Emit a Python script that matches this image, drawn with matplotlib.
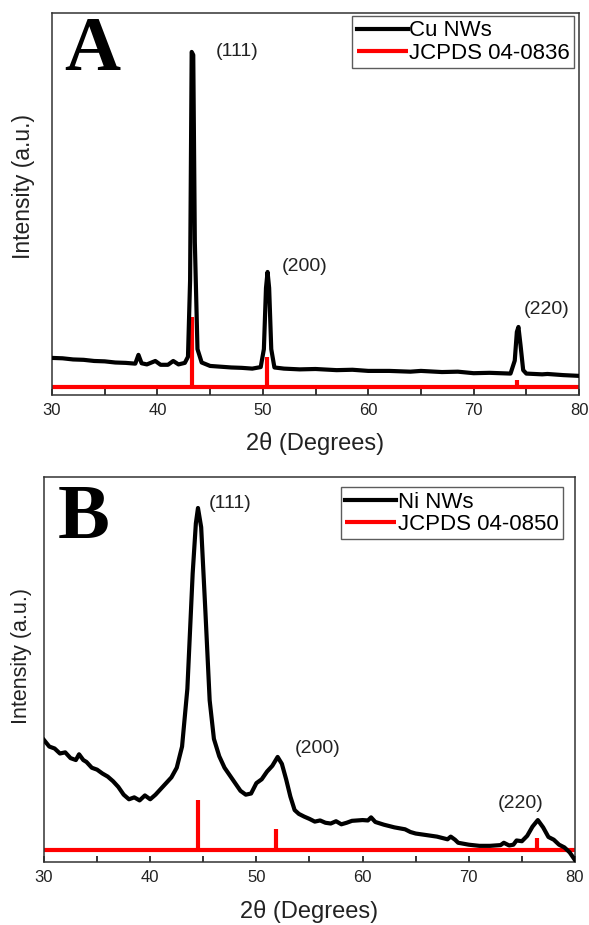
import matplotlib
matplotlib.use('Agg')
import matplotlib.pyplot as plt
from matplotlib.ticker import MultipleLocator

plt.rcParams['font.family'] = ['Liberation Sans', 'DejaVu Sans']

# Cu nanowires, measured pattern
cu_2theta = [30, 31, 32, 33, 34, 35, 36, 37, 37.9, 38.2, 38.5, 39, 39.8, 40.3, 41,
             41.5, 42, 42.6, 42.9, 43.1, 43.25, 43.4, 43.55, 43.8, 44.2, 45, 46, 47,
             48, 49, 49.8, 50.1, 50.3, 50.45, 50.6, 50.8, 51.1, 52, 53.5, 55, 57, 58.5,
             60, 62, 64, 65, 67, 68.5, 70, 71.5, 73.5, 73.9, 74.1, 74.25, 74.45, 74.7,
             75, 76.5, 77, 78.5, 80]
cu_int = [9.7, 9.6, 9.3, 9.2, 8.9, 8.8, 8.5, 8.4, 8.2, 10.5, 8.3, 8.0, 8.9, 7.9, 7.9,
          8.9, 8.0, 8.4, 10, 30, 89.8, 89, 40, 12, 8.5, 7.6, 7.4, 7.2,
          7.1, 6.9, 7.3, 12, 28, 32.2, 28, 12, 7.2, 6.9, 6.7, 6.8, 6.5, 6.6,
          6.3, 6.3, 6.1, 6.3, 6.0, 6.1, 5.7, 5.8, 5.6, 9, 16.5, 17.8, 13, 6.5,
          5.6, 5.4, 5.5, 5.2, 5.0]
# JCPDS 04-0836 reference lines
cu_ref_pos = [43.3, 50.4, 74.1]
cu_ref_int = [20.4, 10.0, 3.9]
cu_ref_base = 2.1
cu_hkl = ['(111)', '(200)', '(220)']
cu_hkl_xy = [(47.6, 89.8), (54.0, 33.5), (76.9, 22.5)]

# Ni nanowires, measured pattern
ni_2theta = [30, 30.5, 31, 31.5, 32, 32.5, 33, 33.3, 33.7, 34, 34.5, 35, 35.5, 36,
             36.5, 37, 37.5, 38, 38.5, 39, 39.5, 40, 40.5, 41, 41.5, 42, 42.5, 43,
             43.5, 44, 44.3, 44.5, 44.8, 45.2, 45.6, 46, 46.5, 47, 47.5, 48, 48.5,
             49, 49.5, 50, 50.5, 51, 51.5, 52, 52.4, 52.8, 53.2, 53.6, 54, 54.5, 55,
             55.5, 56, 56.5, 57, 57.5, 58, 58.5, 59, 60, 60.5, 60.8, 61.2, 62, 63,
             64, 64.5, 65, 66, 67, 68, 68.3, 68.7, 69, 70, 71, 72, 73, 73.3, 73.8,
             74.2, 74.5, 75, 75.5, 76, 76.5, 77, 77.5, 78, 78.5, 79, 79.5, 80]
ni_int = [31.7, 30, 29.5, 28.2, 28.5, 27, 26.5, 28, 26.5, 26, 24.5, 24, 23, 22.2,
          21, 19.5, 17.5, 16.3, 16.8, 16.0, 17.3, 16.3, 17.5, 19, 20.5, 22, 24.5, 30,
          45, 75, 88, 92, 87, 65, 42, 32, 27.5, 24.5, 22.5, 20.5, 18.5,
          17.5, 17.8, 20.5, 21.5, 23.5, 25, 27.3, 25.5, 21.5, 17, 13.5, 12.5, 11.8, 11.2,
          10.5, 10.8, 10.2, 10, 10.6, 9.8, 10.2, 10.7, 10.9, 10.8, 11.6, 10.4, 9.7, 9.0,
          8.5, 7.8, 7.4, 7.0, 6.6, 5.9, 6.6, 5.8, 5.0, 4.5, 4.2, 4.2, 4.4, 5.0, 4.3,
          4.5, 5.6, 5.4, 6.8, 9.2, 10.9, 9.0, 6.5, 5.8, 4.5, 3.8, 2.5, 0.5]
# JCPDS 04-0850 reference lines
ni_ref_pos = [44.5, 51.8, 76.4]
ni_ref_int = [16.1, 8.6, 6.2]
ni_ref_base = 3.1
ni_hkl = ['(111)', '(200)', '(220)']
ni_hkl_xy = [(47.5, 93.2), (55.8, 29.6), (74.9, 15.3)]

fig = plt.figure(figsize=(5.89, 9.25), dpi=100)
ax_a = fig.add_axes([0.0883, 0.573, 0.8948, 0.413])
ax_b = fig.add_axes([0.0747, 0.0681, 0.9015, 0.416])


def panel(ax, x, y, ref_pos, ref_int, base, hkl, hkl_xy, name, card, letter,
          letter_xy, ylab_xy, ylab_size, xlab_y, legend_anchor):
    ax.plot(x, y, color='black', lw=3.0, solid_joinstyle='round', label=name, zorder=3)
    ax.hlines(base, 30, 80, color='#ff0000', lw=3.0, label=card, zorder=2)
    ax.vlines(ref_pos, base, ref_int, color='#ff0000', lw=3.0, zorder=2)
    for t, (tx, ty) in zip(hkl, hkl_xy):
        ax.text(tx, ty, t, ha='center', va='center', fontsize=14, color='#222222')
    ax.text(letter_xy[0], letter_xy[1], letter, transform=ax.transAxes,
            ha='center', va='center', fontsize=56, fontweight='bold',
            family='Liberation Serif')
    ax.set_xlim(30, 80)
    ax.set_ylim(0, 100)
    ax.set_yticks([])
    ax.xaxis.set_major_locator(MultipleLocator(10))
    ax.xaxis.set_minor_locator(MultipleLocator(5))
    ax.tick_params(axis='x', which='both', direction='in', length=4, width=1.1,
                   labelsize=12, pad=6, top=False, labelcolor='#222222')
    for s in ax.spines.values():
        s.set_linewidth(1.1)
        s.set_color('#333333')
    ax.set_xlabel('2θ (Degrees)', fontsize=17, color='#222222')
    ax.xaxis.set_label_coords(0.5, xlab_y)
    ax.set_ylabel('Intensity (a.u.)', fontsize=ylab_size, color='#222222')
    ax.yaxis.set_label_coords(*ylab_xy)
    leg = ax.legend(loc='upper right', bbox_to_anchor=legend_anchor, fontsize=16,
                    frameon=True, fancybox=False, edgecolor='#333333',
                    handlelength=2.3, handletextpad=0.05, borderpad=0.2,
                    labelspacing=0.05, borderaxespad=0)
    leg.get_frame().set_linewidth(1.0)


panel(ax_a, cu_2theta, cu_int, cu_ref_pos, cu_ref_int, cu_ref_base, cu_hkl, cu_hkl_xy,
      'Cu NWs', 'JCPDS 04-0836', 'A', (0.076, 0.90), (-0.032, 0.547), 16.5,
      -0.098, (0.991, 0.992))
panel(ax_b, ni_2theta, ni_int, ni_ref_pos, ni_ref_int, ni_ref_base, ni_hkl, ni_hkl_xy,
      'Ni NWs', 'JCPDS 04-0850', 'B', (0.075, 0.89), (-0.022, 0.535), 15.5,
      -0.098, (0.977, 0.974))

fig.savefig('out.png', dpi=100)
